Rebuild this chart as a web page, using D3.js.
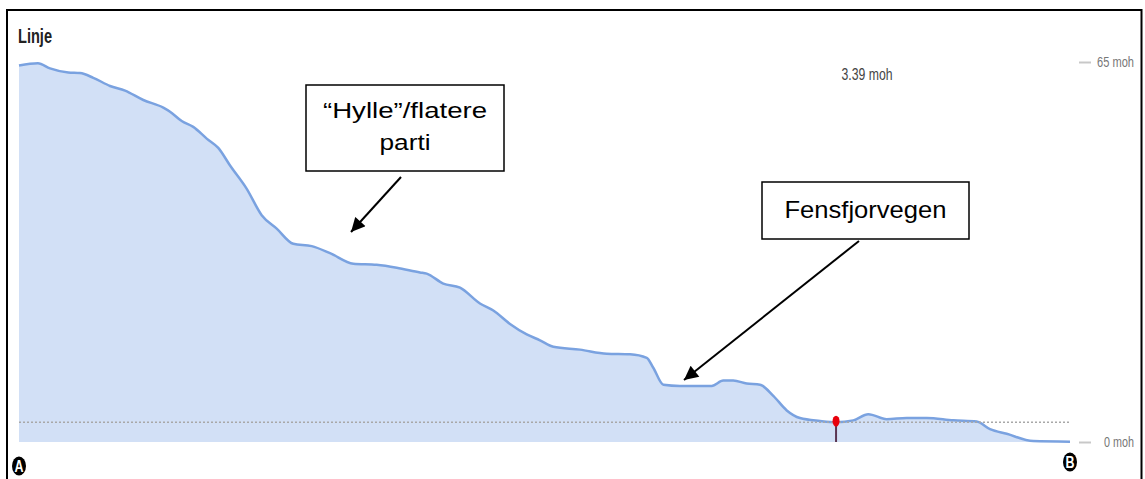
<!DOCTYPE html>
<html><head><meta charset="utf-8">
<script src="https://cdn.jsdelivr.net/npm/d3@7"></script>
<style>
html,body{margin:0;padding:0;background:#fff;}
svg{display:block;}
</style></head>
<body>
<svg id="c" width="1145" height="479"></svg>
<script>
// Distance along the line (relative, 0..1000) and elevation (moh)
const dist = [0,18,29.5,46.9,58,70.7,86.6,100.9,118.3,137.3,143.7,154.8,165.8,178.6,189.6,200.8,216.7,230.9,245.2,261,278.5,295.9,318.1,340.3,359.4,381.5,387.9,403.7,419.6,438.6,451.3,467.2,483.1,495.7,508.4,533.8,559.2,581.4,597.3,603.5,613.1,628.9,659.1,670.1,679.6,692.4,705.1,717.7,730.5,743.1,762.2,777.4,793.8,808.1,825.6,844.6,863.7,889,911.2,923.9,939.8,965.1,1000];
const elev = [64.4,64.8,63.9,63.2,63.1,62.3,60.9,60.1,58.5,57.2,56.5,54.9,53.9,51.9,50.3,47.3,43.3,38.8,36.5,33.9,33.5,32.3,30.5,30.3,29.8,29.0,28.8,27.1,26.4,23.7,22.5,20.2,18.4,17.4,16.3,15.8,15.1,15.0,14.4,12.7,9.8,9.6,9.6,10.5,10.5,10.0,9.8,7.9,5.4,4.1,3.6,3.39,3.7,4.75,3.9,4.1,4.1,3.7,3.5,2.2,1.4,0.15,0.05];
const yTicks = [0, 65];
const tickUnit = " moh";
const markerDist = [777.4];
const markerElev = [3.39];
const title = "Linje";
const endLabels = ["A", "B"];
const annotations = [
  {lines:["\u201CHylle\u201D/flatere","parti"]},
  {lines:["Fensfjorvegen"]}
];

const data = dist.map((d,i)=>({d, e:elev[i]}));
const svg = d3.select("#c");
const sans = "'Liberation Sans',Arial,sans-serif";

const x = d3.scaleLinear().domain([0,1000]).range([19,1070]);
const y = d3.scaleLinear().domain([0,65]).range([442,62]);

// frame
svg.append("rect").attr("x",7).attr("y",10).attr("width",1134.5).attr("height",485)
  .attr("fill","none").attr("stroke","#000").attr("stroke-width",2);

// area + line
const curve = d3.curveMonotoneX;
svg.append("path").datum(data)
  .attr("d", d3.area().x(p=>x(p.d)).y0(y(0)).y1(p=>y(p.e)).curve(curve))
  .attr("fill","#d2e0f6");
svg.append("path").datum(data)
  .attr("d", d3.line().x(p=>x(p.d)).y(p=>y(p.e)).curve(curve))
  .attr("fill","none").attr("stroke","#7aa2e0").attr("stroke-width",2.5);

// dotted level line at marker elevation
svg.append("line").attr("x1",x(0)).attr("x2",x(1000))
  .attr("y1",y(markerElev[0])).attr("y2",y(markerElev[0]))
  .attr("stroke","#a8a8a8").attr("stroke-width",1.6).attr("stroke-dasharray","2,2");

// marker pin
svg.append("line").attr("x1",x(markerDist[0])).attr("x2",x(markerDist[0]))
  .attr("y1",y(markerElev[0])).attr("y2",y(0))
  .attr("stroke","#5a3552").attr("stroke-width",2);
svg.append("ellipse").attr("cx",x(markerDist[0])).attr("cy",y(markerElev[0])-1)
  .attr("rx",3.5).attr("ry",5.5).attr("fill","#e8000c");

// right axis
const ax = svg.append("g").attr("transform","translate(1079,0)")
  .call(d3.axisRight(y).tickValues(yTicks).tickSize(12).tickPadding(8)
    .tickFormat(d=>d+tickUnit));
ax.select(".domain").remove();
ax.selectAll(".tick line").attr("stroke","#c8c8c8").attr("stroke-width",2);
ax.selectAll(".tick text").attr("fill","#777").style("font-family",sans).style("font-size","14px")
  .attr("text-anchor","end").attr("x",55)
  .attr("textLength",d=>d===65?37:30).attr("lengthAdjust","spacingAndGlyphs");

// title
svg.append("text").attr("x",18).attr("y",43).text(title)
  .attr("textLength",34).attr("lengthAdjust","spacingAndGlyphs")
  .style("font-family",sans).style("font-size","21px").style("font-weight","bold").attr("fill","#222");

// readout
svg.append("text").attr("x",867).attr("y",80).attr("text-anchor","middle")
  .text(markerElev[0].toFixed(2)+tickUnit)
  .attr("textLength",51).attr("lengthAdjust","spacingAndGlyphs")
  .style("font-family",sans).style("font-size","16px").attr("fill","#444");

// A / B end markers
[[x(0),466],[x(1000),462]].forEach((p,i)=>{
  svg.append("ellipse").attr("cx",p[0]).attr("cy",p[1]).attr("rx",7).attr("ry",9.5).attr("fill","#000");
  svg.append("text").attr("x",p[0]).attr("y",p[1]+6).attr("text-anchor","middle")
    .text(endLabels[i]).style("font-family",sans).style("font-size","16px")
    .attr("textLength",9).attr("lengthAdjust","spacingAndGlyphs")
    .style("font-weight","bold").attr("fill","#fff");
});

// arrow marker
svg.append("defs").append("marker").attr("id","ah")
  .attr("viewBox","0 0 10 10").attr("refX",10).attr("refY",5)
  .attr("markerWidth",16).attr("markerHeight",14).attr("markerUnits","userSpaceOnUse")
  .attr("orient","auto")
  .append("path").attr("d","M0,0L10,5L0,10Z").attr("fill","#000");

function arrow(x1,y1,x2,y2){
  svg.append("line").attr("x1",x1).attr("y1",y1).attr("x2",x2).attr("y2",y2)
    .attr("stroke","#000").attr("stroke-width",2).attr("marker-end","url(#ah)");
}
arrow(401,177,351,232);
arrow(859,241,684,380);

// annotation boxes
function box(x0,y0,w,h,lines,fs,baselines,lengths){
  svg.append("rect").attr("x",x0).attr("y",y0).attr("width",w).attr("height",h)
    .attr("fill","#fff").attr("stroke","#000").attr("stroke-width",1.5);
  lines.forEach((t,i)=>{
    svg.append("text").attr("x",x0+w/2).attr("y",baselines[i]).attr("text-anchor","middle")
      .attr("textLength",lengths[i]).attr("lengthAdjust","spacingAndGlyphs")
      .text(t).style("font-family",sans).style("font-size",fs+"px").attr("fill","#000");
  });
}
box(306,85,198,86,annotations[0].lines,22,[118,150],[164,51]);
box(762,182,207,57,annotations[1].lines,24,[218],[162]);
</script>
</body></html>
